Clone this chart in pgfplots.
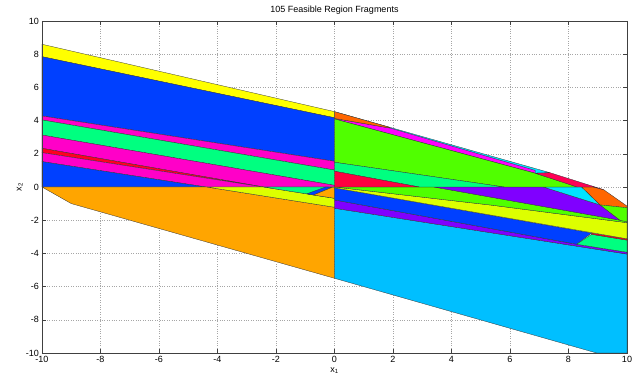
\documentclass[border=0pt]{standalone}
\usepackage{pgfplots}
\pgfplotsset{compat=1.18}
\usepackage{fontspec}
\setmainfont{Liberation Sans}
\definecolor{cYel}{HTML}{FFFF00}
\definecolor{cBlue}{HTML}{0040FF}
\definecolor{cMag}{HTML}{FF00C8}
\definecolor{cMagB}{HTML}{FF00FF}
\definecolor{cSpring}{HTML}{00FF80}
\definecolor{cRed}{HTML}{FF0020}
\definecolor{cRedB}{HTML}{FF0040}
\definecolor{cRP}{HTML}{FF0055}
\definecolor{cOrange}{HTML}{FFA500}
\definecolor{cYG}{HTML}{DDFF00}
\definecolor{cLBlue}{HTML}{00BFFF}
\definecolor{cPurple}{HTML}{8000FF}
\definecolor{cGreen}{HTML}{50FF00}
\definecolor{cCyan}{HTML}{00E5FF}
\definecolor{cOR}{HTML}{FF6600}
\begin{document}
\fontsize{9}{11}\selectfont
\begin{tikzpicture}[x=1pt,y=1pt]
\path (-42,-29) rectangle (598,353);
\begin{axis}[at={(0,0)}, anchor=south west, scale only axis,
  width=585pt, height=332pt,
  xmin=-10, xmax=10, ymin=-10, ymax=10,
  xtick={-10,-8,...,10}, ytick={-10,-8,...,10},
  xticklabels={-10,-8,-6,-4,-2,0,2,4,6,8,10},
  yticklabels={-10,-8,-6,-4,-2,0,2,4,6,8,10},
  tick align=inside, major tick length=4pt,
  tick style={black!75, line width=0.4pt},
  grid=major, grid style={dotted, black!35, line width=0.5pt},
  axis line style={black!75, line width=0.5pt},
  title={105 Feasible Region Fragments},
  xlabel={x\textsubscript{1}}, ylabel={x\textsubscript{2}},
  xlabel style={yshift=1pt}, ylabel style={yshift=-3pt},
  ticklabel style={font=\fontsize{9}{11}\selectfont},
  label style={font=\fontsize{9}{11}\selectfont},
  title style={font=\fontsize{9}{11}\selectfont, yshift=-3pt},
  poly/.style={fill=#1, draw=black!80, line width=0.3pt, mark=none, line join=round},
]
% ---------- left half ----------
\addplot[poly=cYel] coordinates {(-10,8.6) (0,4.54) (0,4.17) (-10,7.85)} -- cycle;
\addplot[poly=cBlue] coordinates {(-10,7.85) (0,4.17) (0,1.55) (-10,4.28)} -- cycle;
\addplot[poly=cMag] coordinates {(-10,4.28) (0,1.55) (0,1.02) (-10,4.04)} -- cycle;
\addplot[poly=cSpring] coordinates {(-10,4.04) (0,1.02) (0,0.1) (-10,3.13)} -- cycle;
\addplot[poly=cMag] coordinates {(-10,3.13) (0,0.1) (0,0) (-2.43,0) (-10,2.33)} -- cycle;
\addplot[poly=cRed] coordinates {(-10,2.33) (-2.43,0) (-10,2.07)} -- cycle;
\addplot[poly=cMag] coordinates {(-10,2.07) (-2.43,0) (-4.4,0) (-10,1.53)} -- cycle;
\addplot[poly=cBlue] coordinates {(-10,1.53) (-4.4,0) (-10,0)} -- cycle;
\addplot[poly=cOrange] coordinates {(-10,0) (-4.37,0) (0,-1.22) (0,-5.5) (-9,-1)} -- cycle;
\addplot[poly=cYG] coordinates {(-4.37,0) (-2.43,0) (0,-0.68) (0,-1.22)} -- cycle;
\addplot[poly=cSpring] coordinates {(-2.43,0) (0,0) (0,-0.68)} -- cycle;
\addplot[poly=cBlue] coordinates {(-0.95,-0.414) (-0.72,-0.484) (-0.08,-0.02) (-0.3,0)} -- cycle;
\addplot[poly=cOrange] coordinates {(-0.72,-0.484) (-0.08,-0.02) (0,-0.02) (0,-0.68)} -- cycle;
% ---------- right half, below zero ----------
\addplot[poly=cLBlue] coordinates {(0,-1.28) (0,-5.5) (8.96,-10) (10,-10) (10,-4.04)} -- cycle;
\addplot[poly=cPurple] coordinates {(0,-0.78) (8.28,-3.45) (10,-3.93) (10,-4.04) (0,-1.28)} -- cycle;
\addplot[poly=cBlue] coordinates {(0,-0.05) (8.79,-2.77) (8.28,-3.45) (0,-0.78)} -- cycle;
\addplot[poly=cSpring] coordinates {(8.28,-3.45) (8.79,-2.85) (10,-3.2) (10,-3.93)} -- cycle;
\addplot[poly=cRed] coordinates {(8.79,-2.77) (10,-3.12) (10,-3.2) (8.79,-2.85)} -- cycle;
\addplot[poly=cYG] coordinates {(0,0) (5.4,-1.1) (10,-2.15) (10,-3.12) (0,-0.05)} -- cycle;
\addplot[poly=cGreen] coordinates {(0,0) (3.4,0) (9.76,-2.0) (10,-2.1) (10,-2.15) (5.4,-1.1)} -- cycle;
\addplot[poly=cPurple] coordinates {(3.4,0) (7.14,0) (9.08,-1.08) (9.76,-2.0)} -- cycle;
\addplot[poly=cCyan] coordinates {(7.14,0) (8.45,0) (9.08,-1.08)} -- cycle;
\addplot[poly=cOR] coordinates {(8.45,0) (8.85,0) (9.2,-0.16) (10,-1.15) (10,-1.25) (9.08,-1.08)} -- cycle;
\addplot[poly=cGreen] coordinates {(9.08,-1.08) (10,-1.25) (10,-2.1) (9.76,-2.0)} -- cycle;
% ---------- right half, above zero ----------
\addplot[poly=cCyan] coordinates {(0,4.54) (7.37,0.86) (6.86,0.83) (0,4.1)} -- cycle;
\addplot[poly=cMagB] coordinates {(0,4.13) (1.9,3.55) (6.86,1.0) (6.86,0.83) (0,4.1)} -- cycle;
\addplot[poly=cOR] coordinates {(0,4.54) (1.9,3.59) (1.9,3.55) (0,4.13)} -- cycle;
\addplot[poly=cGreen] coordinates {(0,4.1) (6.86,0.83) (8.3,0) (5.8,0) (0,1.49)} -- cycle;
\addplot[poly=cRP] coordinates {(6.86,0.83) (7.37,0.86) (9.2,-0.16) (8.85,0) (8.3,0)} -- cycle;
\addplot[poly=cSpring] coordinates {(0,1.49) (5.8,0) (2.9,0) (0,0.95)} -- cycle;
\addplot[poly=cRedB] coordinates {(0,0.95) (2.9,0) (0,0)} -- cycle;
\draw[black!75, line width=0.5pt] (rel axis cs:0,0) rectangle (rel axis cs:1,1);
\end{axis}
\end{tikzpicture}
\end{document}
